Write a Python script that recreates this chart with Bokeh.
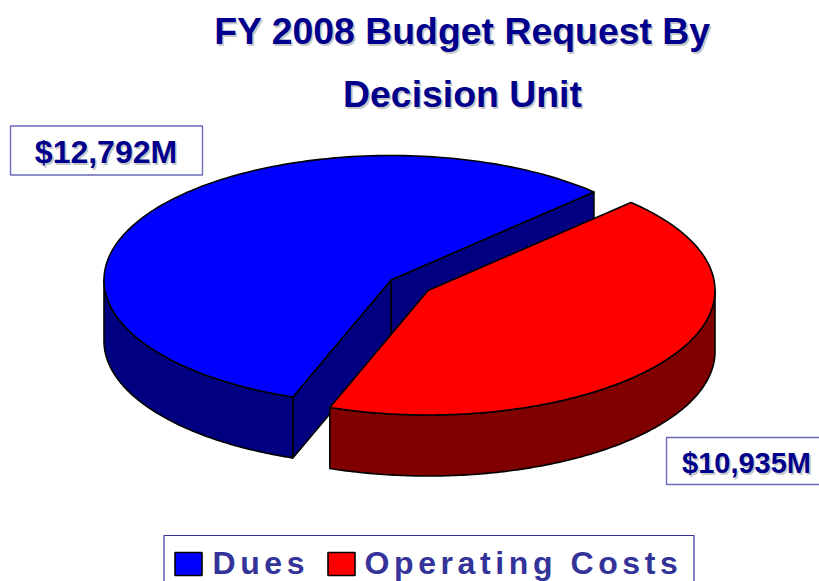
import numpy as np
from bokeh.document import Document
from bokeh.embed import file_html
from bokeh.resources import INLINE
from bokeh.plotting import figure
from bokeh.models import Range1d, CustomJS
from bokeh.core.properties import value

# ---- data ----
categories = ["Dues", "Operating Costs"]
budget_labels = ["$12,792M", "$10,935M"]
slice_sweep_deg = [205, 155]          # sweep of each slice as drawn
slice_start_deg = 45
title_lines = ["FY 2008 Budget Request By", "Decision Unit"]

# ---- style / layout ----
TOP = ["#0000FF", "#FF0000"]
SIDE = ["#000080", "#800000"]
NAVY = "#00008C"
LEG = "#333399"
BOX = "#6a6ab8"
SHADOW = "#c8c8c8"
FONT = value("Liberation Sans")
cx, cy, a, b, depth = 390.5, 279.5, 287.0, 124.5, 61.0
explode = (37.0, 10.5)

p = figure(width=819, height=581, output_backend="svg", toolbar_location=None,
           x_range=Range1d(0, 819), y_range=Range1d(581, 0),
           min_border=0, outline_line_color=None, background_fill_color="white",
           border_fill_color="white")
p.axis.visible = False
p.grid.visible = False
p.xaxis.visible = False
p.yaxis.visible = False


def arc(t0, t1, ox=0.0, oy=0.0):
    t = np.radians(np.linspace(t0, t1, 160))
    return list(cx + ox + a * np.cos(t)), list(cy + oy - b * np.sin(t))


def draw(xs, ys, color):
    p.patch(xs, ys, fill_color=color, line_color="black", line_width=1.6, line_join="round")


def wall(t0, t1, ox, oy, color):
    x, y = arc(t0, t1, ox, oy)
    draw(x + x[::-1], y + [v + depth for v in y[::-1]], color)


def face(x0, y0, x1, y1, color):
    draw([x0, x1, x1, x0], [y0, y1, y1 + depth, y0 + depth], color)


start = slice_start_deg
for i, sweep in enumerate(slice_sweep_deg):
    end = start + sweep
    ox, oy = (0.0, 0.0) if i == 0 else explode
    ax, ay = cx + ox, cy + oy
    x, y = arc(start, end, ox, oy)
    if i == 0:
        face(ax, ay, x[0], y[0], SIDE[i])
        face(ax, ay, x[-1], y[-1], SIDE[i])
        wall(180, end, ox, oy, SIDE[i])
    else:
        wall(start, 360, ox, oy, SIDE[i])
    draw([ax] + x, [ay] + y, TOP[i])
    start = end


def label(x, y, s, px, color, align="left", shadow=True):
    size = f"{px}px"
    y = y - 0.33 * px   # the svg text sits below the requested alphabetic baseline
    if shadow:
        p.text([x + 1.6], [y + 1.6], text=[s], text_font=FONT, text_font_style="bold",
               text_font_size=size, text_color=SHADOW, text_align=align, text_baseline="alphabetic")
    p.text([x], [y], text=[s], text_font=FONT, text_font_style="bold",
           text_font_size=size, text_color=color, text_align=align, text_baseline="alphabetic")


# title
label(462, 43, title_lines[0], 37.4, NAVY, "center")
label(462, 106, title_lines[1], 37.4, NAVY, "center")

# value boxes
p.quad(left=[10], right=[202], top=[125.5], bottom=[174.5], fill_color="white", line_color=BOX, line_width=1.4)
p.quad(left=[666], right=[830], top=[437], bottom=[484], fill_color="white", line_color=BOX, line_width=1.4)
label(105.5, 162, budget_labels[0], 32, NAVY, "center")
label(746, 472, budget_labels[1], 29, NAVY, "center")

# legend
p.quad(left=[163.5], right=[693.5], top=[535], bottom=[600], fill_color="white", line_color=LEG, line_width=1.2)
p.quad(left=[174.5, 327.5], right=[201.5, 354.5], top=[552, 552], bottom=[575, 575],
       fill_color=TOP, line_color="black", line_width=1.6)
label(212, 573, categories[0], 32, LEG, shadow=False)
label(364, 573, categories[1], 32, LEG, shadow=False)

# Legend words are letter-spaced in the reference
spacing = CustomJS(code="""
const names = new Set(["Dues", "Operating Costs"]);
function walk(root) {
  root.querySelectorAll('*').forEach((e) => {
    if (e.shadowRoot) walk(e.shadowRoot);
    if (e.tagName === 'text' && names.has(e.textContent)) e.style.letterSpacing = '4.6px';
  });
}
walk(document);
setTimeout(() => walk(document), 50);
setTimeout(() => walk(document), 300);
""")
doc = Document()
doc.add_root(p)
doc.js_on_event("document_ready", spacing)

open("out.html", "w").write(file_html(p, INLINE))
